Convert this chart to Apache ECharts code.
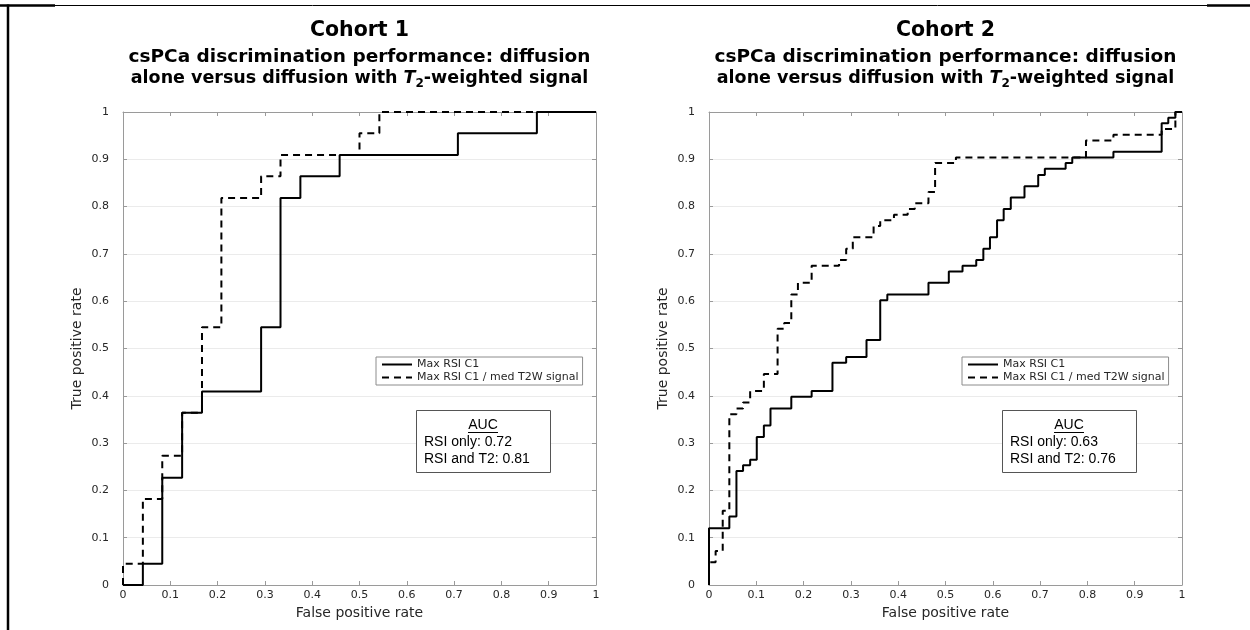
<!DOCTYPE html>
<html>
<head>
<meta charset="utf-8">
<script src="https://cdn.jsdelivr.net/npm/echarts@6/dist/echarts.min.js"></script>
<style>
  html, body { margin: 0; padding: 0; background: #fff; }
  #chart { width: 1250px; height: 630px; }
</style>
</head>
<body>
<div id="chart"></div>
<script>
// ROC curves: false positive rate (x) / true positive rate (y)
const c1RsiFpr = [0, 0.042, 0.042, 0.083, 0.083, 0.125, 0.125, 0.167, 0.167, 0.292, 0.292, 0.333, 0.333, 0.375, 0.375, 0.458, 0.458, 0.708, 0.708, 0.875, 0.875, 1];
const c1RsiTpr = [0, 0, 0.045, 0.045, 0.227, 0.227, 0.364, 0.364, 0.409, 0.409, 0.545, 0.545, 0.818, 0.818, 0.864, 0.864, 0.909, 0.909, 0.955, 0.955, 1, 1];
const c1T2Fpr = [0, 0, 0.042, 0.042, 0.083, 0.083, 0.125, 0.125, 0.167, 0.167, 0.208, 0.208, 0.292, 0.292, 0.333, 0.333, 0.5, 0.5, 0.542, 0.542, 1];
const c1T2Tpr = [0, 0.045, 0.045, 0.182, 0.182, 0.273, 0.273, 0.364, 0.364, 0.545, 0.545, 0.818, 0.818, 0.864, 0.864, 0.909, 0.909, 0.955, 0.955, 1, 1];

const c2RsiFpr = [0, 0, 0.043, 0.043, 0.058, 0.058, 0.072, 0.072, 0.087, 0.087, 0.101, 0.101, 0.116, 0.116, 0.13, 0.13, 0.174, 0.174, 0.217, 0.217, 0.261, 0.261, 0.29, 0.29, 0.333, 0.333, 0.362, 0.362, 0.377, 0.377, 0.464, 0.464, 0.507, 0.507, 0.536, 0.536, 0.565, 0.565, 0.58, 0.58, 0.594, 0.594, 0.609, 0.609, 0.623, 0.623, 0.638, 0.638, 0.667, 0.667, 0.696, 0.696, 0.71, 0.71, 0.754, 0.754, 0.768, 0.768, 0.855, 0.855, 0.957, 0.957, 0.971, 0.971, 0.986, 0.986, 1];
const c2RsiTpr = [0, 0.12, 0.12, 0.145, 0.145, 0.241, 0.241, 0.253, 0.253, 0.265, 0.265, 0.313, 0.313, 0.337, 0.337, 0.373, 0.373, 0.398, 0.398, 0.41, 0.41, 0.47, 0.47, 0.482, 0.482, 0.518, 0.518, 0.602, 0.602, 0.614, 0.614, 0.639, 0.639, 0.663, 0.663, 0.675, 0.675, 0.687, 0.687, 0.711, 0.711, 0.735, 0.735, 0.771, 0.771, 0.795, 0.795, 0.819, 0.819, 0.843, 0.843, 0.867, 0.867, 0.88, 0.88, 0.892, 0.892, 0.904, 0.904, 0.916, 0.916, 0.976, 0.976, 0.988, 0.988, 1, 1];
const c2T2Fpr = [0, 0, 0.014, 0.014, 0.029, 0.029, 0.043, 0.043, 0.058, 0.058, 0.072, 0.072, 0.087, 0.087, 0.116, 0.116, 0.145, 0.145, 0.159, 0.159, 0.174, 0.174, 0.188, 0.188, 0.217, 0.217, 0.275, 0.275, 0.29, 0.29, 0.304, 0.304, 0.348, 0.348, 0.362, 0.362, 0.391, 0.391, 0.42, 0.42, 0.435, 0.435, 0.464, 0.464, 0.478, 0.478, 0.522, 0.522, 0.797, 0.797, 0.855, 0.855, 0.957, 0.957, 0.986, 0.986, 1];
const c2T2Tpr = [0, 0.048, 0.048, 0.072, 0.072, 0.157, 0.157, 0.361, 0.361, 0.373, 0.373, 0.386, 0.386, 0.41, 0.41, 0.446, 0.446, 0.542, 0.542, 0.554, 0.554, 0.614, 0.614, 0.639, 0.639, 0.675, 0.675, 0.687, 0.687, 0.711, 0.711, 0.735, 0.735, 0.759, 0.759, 0.771, 0.771, 0.783, 0.783, 0.795, 0.795, 0.807, 0.807, 0.831, 0.831, 0.892, 0.892, 0.904, 0.904, 0.94, 0.94, 0.952, 0.952, 0.964, 0.964, 1, 1];

const seriesNames = ["Max RSI C1", "Max RSI C1 / med T2W signal"];
const cohortTitles = ["Cohort 1", "Cohort 2"];
const aucRsiOnly = ["0.72", "0.63"];
const aucRsiT2 = ["0.81", "0.76"];

const gridLefts = [123, 709];
const plotW = 473;

function pairs(xs, ys) {
  return xs.map((x, i) => [x, ys[i]]);
}

const axisGray = "#9a9a9a";
const textCol = "#262626";

function xAxes(gi) {
  const base = { type: "value", gridIndex: gi, min: 0, max: 1, interval: 0.1 };
  return [
    Object.assign({}, base, {
      position: "bottom",
      name: "False positive rate",
      nameLocation: "middle",
      nameGap: 21,
      nameTextStyle: { fontFamily: "DejaVu Sans", fontSize: 14, color: textCol },
      axisLine: { onZero: false, lineStyle: { color: axisGray } },
      axisTick: { inside: true, length: 4, lineStyle: { color: axisGray } },
      axisLabel: { margin: 5, fontFamily: "DejaVu Sans", fontSize: 11, color: textCol },
      splitLine: { show: false }
    }),
    Object.assign({}, base, {
      position: "top",
      axisLine: { onZero: false, lineStyle: { color: axisGray } },
      axisTick: { inside: true, length: 4, lineStyle: { color: axisGray } },
      axisLabel: { show: false },
      splitLine: { show: false }
    })
  ];
}

function yAxes(gi) {
  const base = { type: "value", gridIndex: gi, min: 0, max: 1, interval: 0.1 };
  return [
    Object.assign({}, base, {
      position: "left",
      name: "True positive rate",
      nameLocation: "middle",
      nameGap: 39,
      nameTextStyle: { fontFamily: "DejaVu Sans", fontSize: 14, color: textCol },
      axisLine: { onZero: false, lineStyle: { color: axisGray } },
      axisTick: { inside: true, length: 4, lineStyle: { color: axisGray } },
      axisLabel: { margin: 14, fontFamily: "DejaVu Sans", fontSize: 11, color: textCol },
      splitLine: { show: true, lineStyle: { color: "#ebebeb", width: 1 } }
    }),
    Object.assign({}, base, {
      position: "right",
      axisLine: { onZero: false, lineStyle: { color: axisGray } },
      axisTick: { inside: true, length: 4, lineStyle: { color: axisGray } },
      axisLabel: { show: false },
      splitLine: { show: false }
    })
  ];
}

function rocSeries(name, data, gi, dashed) {
  return {
    name: name,
    type: "line",
    xAxisIndex: gi * 2,
    yAxisIndex: gi * 2,
    data: data,
    symbol: "none",
    showSymbol: false,
    silent: true,
    lineStyle: { color: "#000", width: 2, type: dashed ? [7, 5] : "solid" },
    itemStyle: { color: "#000" },
    z: dashed ? 3 : 4
  };
}

function legendFor(gi) {
  return {
    orient: "vertical",
    left: gridLefts[gi] + 253,
    top: 357,
    data: seriesNames,
    itemWidth: 30,
    itemHeight: 10,
    itemGap: 2,
    padding: [2, 4, 2, 5],
    borderColor: "#8c8c8c",
    borderWidth: 1,
    borderRadius: 0,
    backgroundColor: "#fff",
    selectedMode: false,
    itemStyle: { opacity: 0, borderWidth: 0 },
    textStyle: { fontFamily: "DejaVu Sans", fontSize: 11, color: textCol }
  };
}

function titleGraphics(gi) {
  const cx = gridLefts[gi] + plotW / 2;
  return [
    {
      type: "text", x: cx, y: 31,
      style: {
        text: cohortTitles[gi], fill: "#000", align: "center", verticalAlign: "middle",
        fontFamily: "DejaVu Sans", fontWeight: "bold", fontSize: 20.5
      }
    },
    {
      type: "text", x: cx, y: 57,
      style: {
        text: "csPCa discrimination performance: diffusion", fill: "#000",
        align: "center", verticalAlign: "middle",
        fontFamily: "DejaVu Sans", fontWeight: "bold", fontSize: 18.5
      }
    },
    {
      type: "text", x: cx, y: 78,
      style: {
        text: "alone versus diffusion with {i|T}{s|2}-weighted signal", fill: "#000",
        align: "center", verticalAlign: "middle",
        fontFamily: "DejaVu Sans", fontWeight: "bold", fontSize: 17.5, lineHeight: 24,
        rich: {
          i: { fontFamily: "DejaVu Sans", fontWeight: "bold", fontStyle: "italic", fontSize: 17.5, lineHeight: 24, fill: "#000" },
          s: { fontFamily: "DejaVu Sans", fontWeight: "bold", fontSize: 12, lineHeight: 12, verticalAlign: "bottom", fill: "#000" }
        }
      }
    }
  ];
}

function aucGraphics(gi) {
  const x0 = gridLefts[gi] + 293;
  const font = { fontFamily: "Liberation Sans", fontSize: 14, fill: "#000" };
  return [
    { type: "rect", shape: { x: x0 + 0.5, y: 410.5, width: 134, height: 62 },
      style: { fill: "#fff", stroke: "#555", lineWidth: 1 }, z: 10 },
    { type: "text", x: x0 + 67, y: 425, z: 11,
      style: Object.assign({ text: "AUC", align: "center", verticalAlign: "middle" }, font) },
    { type: "line", shape: { x1: x0 + 52, y1: 432.5, x2: x0 + 82, y2: 432.5 },
      style: { stroke: "#000", lineWidth: 1 }, z: 11 },
    { type: "text", x: x0 + 8, y: 442.5, z: 11,
      style: Object.assign({ text: "RSI only: " + aucRsiOnly[gi], align: "left", verticalAlign: "middle" }, font) },
    { type: "text", x: x0 + 8, y: 459, z: 11,
      style: Object.assign({ text: "RSI and T2: " + aucRsiT2[gi], align: "left", verticalAlign: "middle" }, font) }
  ];
}

const frameGraphics = [
  { type: "line", shape: { x1: 0, y1: 5.5, x2: 1250, y2: 5.5 }, style: { stroke: "#000", lineWidth: 1 } },
  { type: "line", shape: { x1: 0, y1: 5.5, x2: 55, y2: 5.5 }, style: { stroke: "#000", lineWidth: 2.5 } },
  { type: "line", shape: { x1: 1207, y1: 5.5, x2: 1250, y2: 5.5 }, style: { stroke: "#000", lineWidth: 2.5 } },
  { type: "line", shape: { x1: 8, y1: 4.5, x2: 8, y2: 630 }, style: { stroke: "#000", lineWidth: 2.5 } }
];

const chart = echarts.init(document.getElementById("chart"), null, { renderer: "canvas" });
chart.setOption({
  animation: false,
  backgroundColor: "#fff",
  grid: [0, 1].map(gi => ({
    left: gridLefts[gi], width: plotW, top: 112, height: 473,
    show: false, containLabel: false
  })),
  xAxis: xAxes(0).concat(xAxes(1)),
  yAxis: yAxes(0).concat(yAxes(1)),
  legend: [legendFor(0), legendFor(1)],
  series: [
    rocSeries(seriesNames[0], pairs(c1RsiFpr, c1RsiTpr), 0, false),
    rocSeries(seriesNames[1], pairs(c1T2Fpr, c1T2Tpr), 0, true),
    rocSeries(seriesNames[0], pairs(c2RsiFpr, c2RsiTpr), 1, false),
    rocSeries(seriesNames[1], pairs(c2T2Fpr, c2T2Tpr), 1, true)
  ],
  graphic: frameGraphics
    .concat(titleGraphics(0), titleGraphics(1))
    .concat(aucGraphics(0), aucGraphics(1))
});
</script>
</body>
</html>
